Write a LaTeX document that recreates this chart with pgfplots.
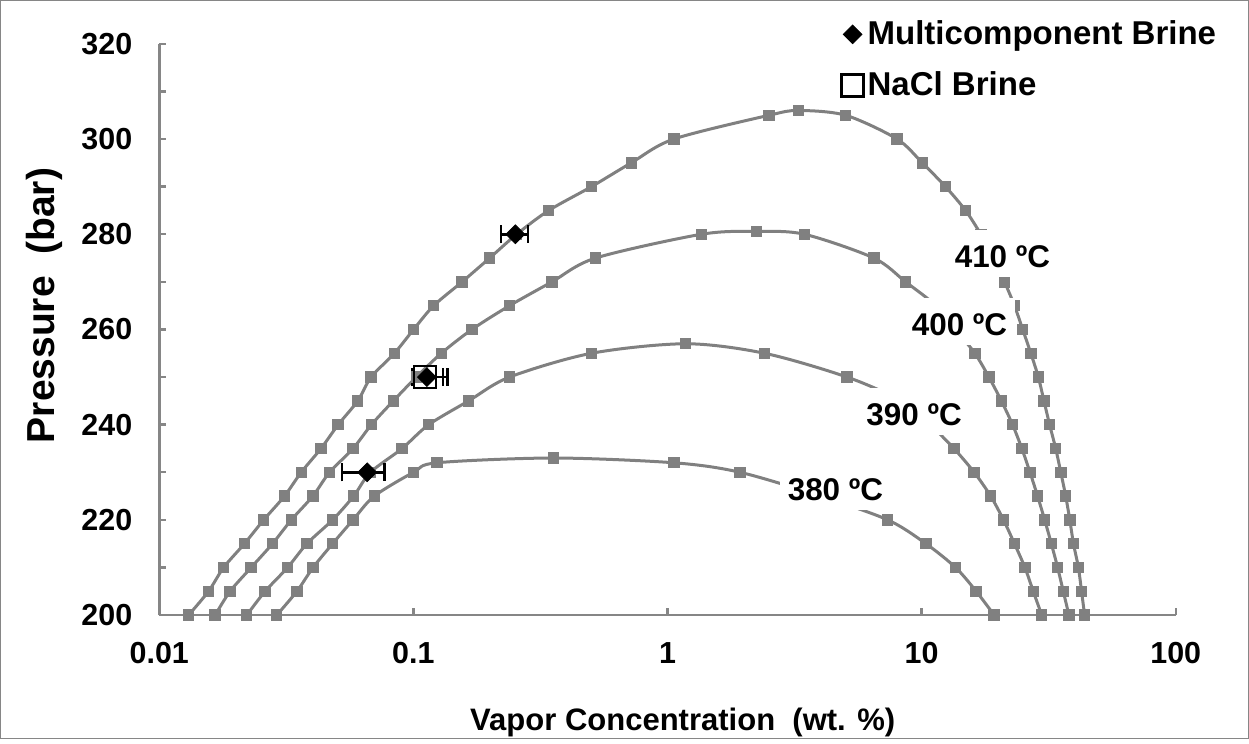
\documentclass[border=0pt]{standalone}
\usepackage{fontspec}
\setmainfont{Liberation Sans}
\usepackage{pgfplots}
\pgfplotsset{compat=1.18}
\definecolor{curve}{RGB}{128,128,128}
\definecolor{axisgray}{RGB}{134,134,134}
\begin{document}
\begin{tikzpicture}
\begin{axis}[
  width=508pt, height=285.5pt, scale only axis,
  xmode=log, xmin=0.01, xmax=100, ymin=200, ymax=320,
  xtick={0.01,0.1,1,10,100}, xticklabels={0.01,0.1,1,10,100},
  ytick={200,220,...,320},
  minor ytick={210,230,...,310},
  xminorticks=false,
  tick align=inside,
  major tick length=3.5pt, minor tick length=3.5pt,
  every tick/.style={axisgray, line width=1.2pt},
  axis x line*=bottom, axis y line*=left,
  axis line style={axisgray, line width=1.3pt, -},
  /pgf/number format/assume math mode=true,
  ticklabel style={font=\bfseries\fontsize{15.2}{18}\selectfont, black},
  yticklabel style={xshift=-10pt},
  xticklabel style={yshift=-10pt},
  xlabel={Vapor Concentration\ \ (wt. \%)},
  ylabel={Pressure\ \ (bar)},
  xlabel style={at={(axis description cs:0.515,-0.188)}, anchor=center, font=\bfseries\fontsize{15.5}{18}\selectfont},
  ylabel style={at={(axis description cs:-0.113,0.542)}, anchor=center, rotate=0, font=\bfseries\fontsize{19.5}{22}\selectfont},
  clip=false,
  legend style={at={(axis description cs:0.665,1.055)}, anchor=north west, draw=none, fill=none,
    font=\bfseries\fontsize{16.5}{20}\selectfont, row sep=8pt},
  legend cell align=left,
]
% 410 C
\addplot[curve, line width=1.5pt, smooth, tension=0.5, mark=square*, mark size=2.6pt,
  mark options={fill=curve, draw=curve, line width=0pt}, forget plot] coordinates {
(0.01304,200) (0.01563,205) (0.01792,210) (0.02163,215) (0.02576,220) (0.0311,225)
(0.0362,230) (0.0433,235) (0.0506,240) (0.0604,245) (0.0682,250) (0.0842,255)
(0.1002,260) (0.1202,265) (0.1555,270) (0.1996,275) (0.255,280) (0.341,285)
(0.502,290) (0.720,295) (1.059,300) (2.51,305) (3.27,306) (5.02,305) (8.01,300)
(10.06,295) (12.42,290) (14.89,285) (17.1,280) (19.2,275) (21.2,270) (23.2,265)
(25.0,260) (26.9,255) (28.8,250) (30.3,245) (31.9,240) (33.7,235) (35.3,230)
(36.9,225) (38.3,220) (39.6,215) (41.4,210) (42.6,205) (43.8,200)};
% 400 C
\addplot[curve, line width=1.5pt, smooth, tension=0.5, mark=square*, mark size=2.6pt,
  mark options={fill=curve, draw=curve, line width=0pt}, forget plot] coordinates {
(0.0166,200) (0.0190,205) (0.0230,210) (0.0279,215) (0.0331,220) (0.0402,225)
(0.0468,230) (0.0579,235) (0.0684,240) (0.0834,245) (0.1027,250) (0.1288,255)
(0.170,260) (0.239,265) (0.351,270) (0.521,275) (1.36,280) (2.24,280.6) (3.46,280)
(6.49,275) (8.65,270) (11.4,265) (13.6,260) (16.2,255) (18.4,250) (20.6,245)
(22.8,240) (24.8,235) (26.7,230) (28.6,225) (30.5,220) (32.4,215) (34.3,210)
(36.1,205) (38.0,200)};
% 390 C
\addplot[curve, line width=1.5pt, smooth, tension=0.5, mark=square*, mark size=2.6pt,
  mark options={fill=curve, draw=curve, line width=0pt}, forget plot] coordinates {
(0.0221,200) (0.0261,205) (0.0320,210) (0.0381,215) (0.0481,220) (0.0582,225)
(0.0678,230) (0.0903,235) (0.1149,240) (0.165,245) (0.239,250) (0.502,255)
(1.18,257) (2.41,255) (5.09,250) (8.3,245) (10.8,240) (13.4,235) (16.1,230)
(18.7,225) (21.0,220) (23.2,215) (25.5,210) (27.5,205) (29.7,200)};
% 380 C
\addplot[curve, line width=1.5pt, smooth, tension=0.5, mark=square*, mark size=2.6pt,
  mark options={fill=curve, draw=curve, line width=0pt}, forget plot] coordinates {
(0.0290,200) (0.0348,205) (0.0403,210) (0.0481,215) (0.0579,220) (0.0702,225)
(0.1002,230) (0.124,232) (0.356,233) (1.06,232) (1.93,230) (4.0,225) (7.36,220)
(10.4,215) (13.6,210) (16.4,205) (19.3,200)};
% label anchors (baselines)
\coordinate (l410) at (axis cs:20.8,273.0);
\coordinate (l400) at (axis cs:14.1,258.7);
\coordinate (l390) at (axis cs:9.34,239.8);
\coordinate (l380) at (axis cs:4.58,224.05);
% data
\addplot[only marks, mark=square*, mark size=3.3pt, mark options={rotate=45, fill=black, draw=black},
  error bars/.cd, x dir=both, x explicit,
  error bar style={black, line width=1.3pt},
  error mark options={rotate=90, mark size=4.5pt, black, line width=1.3pt}]
  coordinates {(0.252,280) +- (0.031,0) (0.113,250) += (0.023,0) -= (0.014,0) (0.0658,230) += (0.0113,0) -= (0.0134,0)};
\addlegendentry{Multicomponent Brine}
\addplot[only marks, mark=square, mark size=5.5pt, mark options={draw=black, fill=none, line width=1.3pt},
  error bars/.cd, x dir=both, x explicit,
  error bar style={black, line width=1.3pt},
  error mark options={rotate=90, mark size=4.5pt, black, line width=1.3pt}]
  coordinates {(0.111,250) += (0.02,0) -= (0.012,0)};
\addlegendentry{NaCl Brine}
\draw[axisgray, line width=0.6pt] (rel axis cs:-0.1561,-0.2158) rectangle (rel axis cs:1.0715,1.0757);
\end{axis}
\tikzset{lab/.style={fill=white, anchor=base, inner xsep=4pt, inner ysep=3pt, text height=15.7pt, text depth=1.6pt, font=\bfseries\fontsize{15.7}{18}\selectfont}}
\node[lab] at (l410) {410 ºC};
\node[lab] at (l400) {400 ºC};
\node[lab] at (l390) {390 ºC};
\node[lab] at (l380) {380 ºC};
\end{tikzpicture}
\end{document}
